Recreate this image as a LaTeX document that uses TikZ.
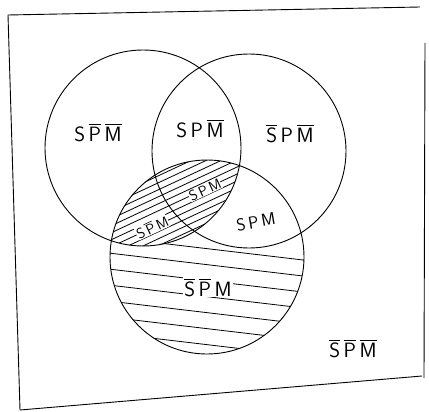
\documentclass[tikz,border=0pt]{standalone}
\usepackage{amsmath}
\newcommand{\ob}[1]{\overline{\mathsf{#1}}}
\newcommand{\pl}[1]{\mathsf{#1}}
\begin{document}
\begin{tikzpicture}[x=1pt,y=-1pt,
  pen/.style={line width=0.9pt, black},
  hatch/.style={line width=0.8pt, black},
  lab/.style={font=\huge, inner sep=1pt},
  slab/.style={font=\Large, inner sep=0.3pt, fill=white}]
\useasboundingbox (0,0) rectangle (429,412);
\coordinate (cS) at (143,148);
\coordinate (cP) at (249,151);
\coordinate (cM) at (207,257);
% hatch of M only
\begin{scope}
  \clip (cM) circle[radius=97pt];
  \foreach \k in {0,...,10} \draw[hatch] (100,236+16*\k) -- (320,262+16*\k);
  \fill[white] (cS) circle[radius=98pt];
  \fill[white] (cP) circle[radius=97pt];
\end{scope}
% hatch of S and M
\begin{scope}
  \clip (cS) circle[radius=98pt];
  \clip (cM) circle[radius=97pt];
  \foreach \k in {-12,...,12} \draw[hatch] (100,238+7*\k) -- (250,168+7*\k);
\end{scope}
% labels inside the hatched lens
\node[slab, rotate=25] (l4) at (205,190) {$\pl{S}\,\pl{P}\,\pl{M}$};
\node[slab, rotate=25] (l5) at (152,227) {$\pl{S}\,\ob{P}\,\pl{M}$};
% circles
\draw[pen] (cS) circle[radius=98pt];
\draw[pen] (cP) circle[radius=97pt];
\draw[pen] (cM) circle[radius=97pt];
% frame
\draw[pen] (8,15) -- (420,7);
\draw[pen] (8,15) -- (20,410);
\draw[pen] (20,410) -- (422,376);
\draw[pen] (425,43) -- (424,378);
% labels
\node[lab] (l1) at (98,132) {$\pl{S}\,\ob{P}\,\ob{M}$};
\node[lab] (l2) at (200,128) {$\pl{S}\,\pl{P}\,\ob{M}$};
\node[lab] (l3) at (290,133) {$\ob{S}\,\pl{P}\,\ob{M}$};
\node[lab, font=\LARGE, rotate=10] (l6) at (256,222) {$\pl{S}\,\pl{P}\,\pl{M}$};
\node[lab, fill=white] (l7) at (208,287) {$\ob{S}\,\ob{P}\,\pl{M}$};
\node[lab] (l8) at (353,348) {$\ob{S}\,\ob{P}\,\ob{M}$};
\end{tikzpicture}
\end{document}
